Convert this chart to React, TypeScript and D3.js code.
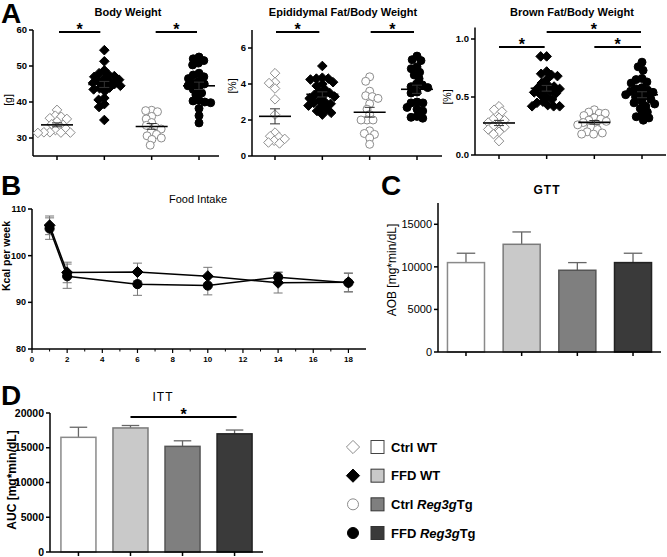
import React from "react";
import * as d3 from "d3";

const FONT = "Liberation Sans, Arial, sans-serif";
const W = 667;
const H = 557;

const GROUPS = ["Ctrl WT", "FFD WT", "Ctrl Reg3g", "FFD Reg3g"];

// A: body weight [g]
const bwCtrlWT = [37.8, 36.2, 35.9, 35.5, 35.3, 34.6, 33.8, 33.2, 32.6, 32.2, 31.6, 31.5, 31.5, 31.4, 31.6];
const bwFfdWT = [54.4, 51.3, 48.8, 48.0, 47.6, 47.2, 47.0, 46.5, 46.2, 45.9, 45.6, 45.3, 45.0, 44.8, 44.5, 44.0, 43.8, 43.5, 43.0, 41.1, 40.6, 39.4, 38.6, 35.0];
const bwCtrlTg = [37.7, 37.6, 37.3, 36.0, 35.3, 34.3, 33.5, 32.5, 31.8, 31.0, 30.6, 30.0, 29.6, 28.0, 33.0];
const bwFfdTg = [52.5, 52.0, 51.5, 50.8, 50.3, 48.0, 47.5, 47.0, 46.5, 45.8, 45.3, 45.0, 44.5, 44.0, 43.5, 42.5, 42.0, 40.5, 40.3, 40.0, 39.8, 38.2, 36.2, 34.2];

// A: epididymal fat / body weight [%]
const epiCtrlWT = [4.6, 4.1, 4.05, 3.75, 3.15, 2.3, 1.3, 1.1, 1.05, 0.95, 0.85, 0.75, 0.7];
const epiFfdWT = [5.0, 4.35, 4.3, 4.3, 4.25, 4.1, 4.0, 3.9, 3.7, 3.6, 3.5, 3.4, 3.35, 3.3, 3.2, 3.1, 3.0, 2.95, 2.9, 2.8, 2.75, 2.6, 2.5, 2.4, 2.3];
const epiCtrlTg = [4.4, 4.15, 3.6, 3.35, 3.3, 3.2, 2.9, 2.6, 2.3, 2.0, 2.0, 2.0, 1.4, 1.25, 1.2, 1.0, 0.65];
const epiFfdTg = [5.55, 5.35, 5.3, 4.95, 4.85, 4.65, 4.5, 4.3, 4.0, 3.95, 3.85, 3.8, 3.55, 3.5, 3.0, 2.95, 2.95, 2.7, 2.6, 2.5, 2.2, 2.15, 2.1];

// A: brown fat / body weight [%]
const brCtrlWT = [0.42, 0.39, 0.375, 0.32, 0.31, 0.3, 0.28, 0.26, 0.25, 0.24, 0.22, 0.2, 0.18, 0.12];
const brFfdWT = [0.85, 0.85, 0.72, 0.7, 0.69, 0.68, 0.65, 0.62, 0.6, 0.59, 0.58, 0.57, 0.56, 0.55, 0.54, 0.53, 0.52, 0.5, 0.48, 0.46, 0.45, 0.43, 0.42, 0.42, 0.42];
const brCtrlTg = [0.39, 0.37, 0.36, 0.36, 0.34, 0.32, 0.31, 0.3, 0.29, 0.28, 0.27, 0.26, 0.24, 0.22, 0.2, 0.19, 0.18, 0.18];
const brFfdTg = [0.8, 0.76, 0.73, 0.66, 0.65, 0.63, 0.62, 0.58, 0.57, 0.56, 0.55, 0.54, 0.53, 0.52, 0.51, 0.5, 0.48, 0.46, 0.45, 0.44, 0.42, 0.4, 0.37, 0.35, 0.33, 0.32, 0.3];

// B: food intake
const weeks = [1, 2, 6, 10, 14, 18];
const fiFfdWT = [106.5, 96.4, 96.5, 95.6, 94.2, 94.3];
const fiFfdWTErr = [2.0, 2.2, 1.9, 1.9, 2.2, 2.0];
const fiFfdTg = [105.8, 95.6, 93.9, 93.6, 95.4, 94.2];
const fiFfdTgErr = [2.3, 2.6, 2.4, 2.0, 1.1, 2.0];
const fiXTicks = [0, 2, 4, 6, 8, 10, 12, 14, 16, 18];
const fiYTicks = [80, 90, 100, 110];

// C: GTT
const gttMean = [10500, 12650, 9600, 10500];
const gttErr = [1100, 1450, 900, 1100];
const gttTicks = [0, 5000, 10000, 15000];

// D: ITT
const ittMean = [16500, 17850, 15200, 17000];
const ittErr = [1450, 350, 800, 550];
const ittTicks = [0, 5000, 10000, 15000, 20000];

const barFill = ["#ffffff", "#c9c9c9", "#7f7f7f", "#3a3a3a"];
const barStroke = ["#8a8a8a", "#7a7a7a", "#555555", "#222222"];

const MR = 4; // marker radius
const SEP = 6; // swarm spacing (markers may overlap a bit)

function Marker({ kind, x, y, r }: { kind: number; x: number; y: number; r: number }) {
  const filled = kind === 1 || kind === 3;
  const fill = filled ? "#000" : "#fff";
  const stroke = filled ? "#000" : "#8c8c8c";
  if (kind <= 1) {
    const d = r * 1.2;
    return (
      <path
        d={`M${x},${y - d}L${x + d},${y}L${x},${y + d}L${x - d},${y}Z`}
        fill={fill}
        stroke={stroke}
        strokeWidth={1}
      />
    );
  }
  return <circle cx={x} cy={y} r={r} fill={fill} stroke={stroke} strokeWidth={1} />;
}

// simple beeswarm layout in pixel space
function swarm(values: number[], y: (v: number) => number, cx: number, sep: number) {
  const pts = values.map((v) => ({ v, y: y(v), x: cx })).sort((a, b) => a.y - b.y);
  const placed: { x: number; y: number }[] = [];
  for (const p of pts) {
    const near = placed.filter((q) => Math.abs(q.y - p.y) < sep);
    const cands = [cx];
    near.forEach((q) => {
      const dx = Math.sqrt(sep * sep - (q.y - p.y) ** 2);
      cands.push(q.x - dx, q.x + dx);
    });
    const ok = cands
      .filter((c) => near.every((q) => (q.x - c) ** 2 + (q.y - p.y) ** 2 >= sep * sep - 0.01))
      .sort((a, b) => Math.abs(a - cx) - Math.abs(b - cx));
    p.x = ok.length ? ok[0] : cx;
    placed.push({ x: p.x, y: p.y });
  }
  return pts;
}

function YAxis({ x, scale, ticks, fmt, size, bold, top }: any) {
  const [r0, r1] = scale.range();
  return (
    <g>
      <line x1={x} x2={x} y1={top ?? r1} y2={r0} stroke="#000" strokeWidth={1.5} />
      {ticks.map((t: number) => (
        <g key={t}>
          <line x1={x - 4} x2={x} y1={scale(t)} y2={scale(t)} stroke="#000" strokeWidth={1.5} />
          <text
            x={x - 6}
            y={scale(t)}
            dy="0.35em"
            textAnchor="end"
            fontSize={size}
            fontWeight={bold ? "bold" : "normal"}
            fontFamily={FONT}
          >
            {fmt ? fmt(t) : t}
          </text>
        </g>
      ))}
    </g>
  );
}

function Star({ x1, x2, y }: { x1: number; x2: number; y: number }) {
  return (
    <g>
      <line x1={x1} x2={x2} y1={y} y2={y} stroke="#000" strokeWidth={2} />
      <text x={(x1 + x2) / 2} y={y + 3} textAnchor="middle" fontSize={16} fontWeight="bold" fontFamily={FONT}>
        *
      </text>
    </g>
  );
}

function ScatterPanel({ data, axisX, axisEnd, x0, x1, y0, y1, domain, ticks, fmt, title, titleX, ylab, ylabX, ylabY, sigs }: any) {
  const x = d3.scalePoint<string>().domain(GROUPS).range([x0, x1]);
  const y = d3.scaleLinear().domain(domain).range([y0, y1]);
  return (
    <g>
      <text x={titleX} y={16} textAnchor="middle" fontSize={11} fontWeight="bold" fontFamily={FONT}>
        {title}
      </text>
      <text transform={`translate(${ylabX},${ylabY}) rotate(-90)`} textAnchor="middle" fontSize={10.5} fontFamily={FONT}>
        {ylab}
      </text>
      <YAxis x={axisX} scale={y} ticks={ticks} fmt={fmt} size={9.5} bold />
      <line x1={axisX} x2={axisEnd} y1={y0} y2={y0} stroke="#000" strokeWidth={1.5} />
      {GROUPS.map((g) => (
        <line key={g} x1={x(g)} x2={x(g)} y1={y0} y2={y0 + 4} stroke="#000" strokeWidth={1.5} />
      ))}
      {data.map((vals: number[], i: number) => {
        const cx = x(GROUPS[i])!;
        const pts = swarm(vals, y, cx, SEP);
        const m = d3.mean(vals)!;
        const sem = d3.deviation(vals)! / Math.sqrt(vals.length);
        return (
          <g key={i}>
            {pts.map((p, j) => (
              <Marker key={j} kind={i} x={p.x} y={p.y} r={MR} />
            ))}
            <line x1={cx - 16} x2={cx + 16} y1={y(m)} y2={y(m)} stroke="#000" strokeWidth={1.6} />
            <line x1={cx} x2={cx} y1={y(m - sem)} y2={y(m + sem)} stroke="#333" strokeWidth={1} />
            <line x1={cx - 5} x2={cx + 5} y1={y(m + sem)} y2={y(m + sem)} stroke="#333" strokeWidth={1} />
            <line x1={cx - 5} x2={cx + 5} y1={y(m - sem)} y2={y(m - sem)} stroke="#333" strokeWidth={1} />
          </g>
        );
      })}
      {sigs.map((s: any, k: number) => (
        <Star key={k} x1={x(GROUPS[s.a])! + s.da} x2={x(GROUPS[s.b])! + s.db} y={s.y} />
      ))}
    </g>
  );
}

function FoodIntake() {
  const x = d3.scaleLinear().domain([0, 19]).range([32, 366]);
  const y = d3.scaleLinear().domain([80, 110]).range([349, 209]);
  const minor = d3.range(1, 19, 2);
  const series = [
    { v: fiFfdTg, e: fiFfdTgErr, kind: 3 },
    { v: fiFfdWT, e: fiFfdWTErr, kind: 1 },
  ];
  const line = d3
    .line<number>()
    .x((_, i) => x(weeks[i]))
    .y((d) => y(d));
  return (
    <g>
      <text x={1} y={195} fontSize={28} fontWeight="bold" fontFamily={FONT}>
        B
      </text>
      <text x={198} y={203} textAnchor="middle" fontSize={11} fontFamily={FONT}>
        Food Intake
      </text>
      <text transform={`translate(10,256) rotate(-90)`} textAnchor="middle" fontSize={10.5} fontWeight="bold" fontFamily={FONT}>
        Kcal per week
      </text>
      <YAxis x={32} scale={y} ticks={fiYTicks} size={9} bold />
      <line x1={32} x2={366} y1={349} y2={349} stroke="#000" strokeWidth={1.5} />
      {fiXTicks.map((t) => (
        <g key={t}>
          <line x1={x(t)} x2={x(t)} y1={349} y2={353} stroke="#000" strokeWidth={1.2} />
          <text x={x(t)} y={362} textAnchor="middle" fontSize={8} fontWeight="bold" fontFamily={FONT}>
            {t}
          </text>
        </g>
      ))}
      {minor.map((t) => (
        <line key={t} x1={x(t)} x2={x(t)} y1={349} y2={351.5} stroke="#000" strokeWidth={1} />
      ))}
      {series.map((s, k) => (
        <g key={k}>
          {s.v.map((v, i) => (
            <g key={i} stroke="#777" strokeWidth={1}>
              <line x1={x(weeks[i])} x2={x(weeks[i])} y1={y(v - s.e[i])} y2={y(v + s.e[i])} />
              <line x1={x(weeks[i]) - 4.5} x2={x(weeks[i]) + 4.5} y1={y(v + s.e[i])} y2={y(v + s.e[i])} />
              <line x1={x(weeks[i]) - 4.5} x2={x(weeks[i]) + 4.5} y1={y(v - s.e[i])} y2={y(v - s.e[i])} />
            </g>
          ))}
        </g>
      ))}
      {series.map((s, k) => (
        <g key={k}>
          <path d={line(s.v)!} fill="none" stroke="#000" strokeWidth={1.5} />
          {s.v.map((v, i) => (
            <Marker key={i} kind={s.kind} x={x(weeks[i])} y={y(v)} r={4.6} />
          ))}
        </g>
      ))}
    </g>
  );
}

function BarPanel({ mean, err, ticks, domain, axisX, axisEnd, y0, y1, pi, po, bold, letter, letterX, letterY, title, titleX, titleY, ylab, ylabX, ylabY, sig }: any) {
  const x = d3.scaleBand<string>().domain(GROUPS).range([axisX, axisEnd]).paddingInner(pi).paddingOuter(po);
  const y = d3.scaleLinear().domain(domain).range([y0, y1]);
  const bw = x.bandwidth();
  return (
    <g>
      <text x={letterX} y={letterY} fontSize={28} fontWeight="bold" fontFamily={FONT}>
        {letter}
      </text>
      <text x={titleX} y={titleY} textAnchor="middle" fontSize={12} fontWeight={bold ? "normal" : "bold"} letterSpacing={1} fontFamily={FONT}>
        {title}
      </text>
      <text
        transform={`translate(${ylabX},${ylabY}) rotate(-90)`}
        textAnchor="middle"
        fontSize={12}
        fontWeight={bold ? "bold" : "normal"}
        fontFamily={FONT}
      >
        {ylab}
      </text>
      {mean.map((m: number, i: number) => {
        const bx = x(GROUPS[i])!;
        const cx = bx + bw / 2;
        return (
          <g key={i}>
            <line x1={cx} x2={cx} y1={y(m)} y2={y(m + err[i])} stroke="#666" strokeWidth={1.3} />
            <line x1={cx - bw / 4} x2={cx + bw / 4} y1={y(m + err[i])} y2={y(m + err[i])} stroke="#666" strokeWidth={1.3} />
            <rect x={bx} y={y(m)} width={bw} height={y0 - y(m)} fill={barFill[i]} stroke={barStroke[i]} strokeWidth={1.5} />
            <line x1={cx} x2={cx} y1={y0} y2={y0 + 4} stroke="#000" strokeWidth={1.5} />
          </g>
        );
      })}
      <YAxis x={axisX} scale={y} ticks={ticks} size={bold ? 10.5 : 11} bold={bold} />
      <line x1={axisX} x2={axisEnd} y1={y0} y2={y0} stroke="#000" strokeWidth={1.5} />
      {sig && <Star x1={x(GROUPS[sig.a])! + bw / 2} x2={x(GROUPS[sig.b])! + bw / 2 + 2} y={sig.y} />}
    </g>
  );
}

function Legend() {
  const rowY = d3.scalePoint<string>().domain(GROUPS).range([447, 533]);
  return (
    <g fontFamily={FONT} fontSize={13} fontWeight="bold">
      {GROUPS.map((g, i) => {
        const yy = rowY(g)!;
        const tg = g.includes("Reg3g");
        return (
          <g key={g}>
            <Marker kind={i} x={353} y={yy} r={5.5} />
            <rect x={371} y={yy - 6.5} width={13} height={13} fill={barFill[i]} stroke={i === 0 ? "#444" : "#333"} strokeWidth={1} />
            <text x={391} y={yy} dy="0.36em">
              {tg ? (
                <>
                  {g.split(" ")[0] + " "}
                  <tspan fontStyle="italic">Reg3g</tspan>Tg
                </>
              ) : (
                g
              )}
            </text>
          </g>
        );
      })}
    </g>
  );
}

export default function App() {
  return (
    <svg width={W} height={H} style={{ position: "absolute", left: 0, top: 0, background: "#fff" }}>
      <rect width={W} height={H} fill="#fff" />
      <text x={1} y={23} fontSize={28} fontWeight="bold" fontFamily={FONT}>
        A
      </text>
      <ScatterPanel
        data={[bwCtrlWT, bwFfdWT, bwCtrlTg, bwFfdTg]}
        axisX={33}
        axisEnd={219}
        x0={57}
        x1={199}
        y0={156}
        y1={30}
        domain={[25, 60]}
        ticks={[30, 40, 50, 60]}
        title="Body Weight"
        titleX={128}
        ylab="[g]"
        ylabX={12}
        ylabY={100}
        sigs={[
          { a: 0, b: 1, da: 2, db: -4, y: 32 },
          { a: 2, b: 3, da: 4, db: -2, y: 32 },
        ]}
      />
      <ScatterPanel
        data={[epiCtrlWT, epiFfdWT, epiCtrlTg, epiFfdTg]}
        axisX={252}
        axisEnd={442}
        x0={275}
        x1={417}
        y0={156}
        y1={30}
        domain={[0, 7]}
        ticks={[0, 2, 4, 6]}
        title="Epididymal Fat/Body Weight"
        titleX={343}
        ylab="[%]"
        ylabX={236}
        ylabY={86}
        sigs={[
          { a: 0, b: 1, da: 1, db: -3, y: 32 },
          { a: 2, b: 3, da: 1, db: -3, y: 32 },
        ]}
      />
      <ScatterPanel
        data={[brCtrlWT, brFfdWT, brCtrlTg, brFfdTg]}
        axisX={475}
        axisEnd={666}
        x0={499}
        x1={642}
        y0={155}
        y1={27.4}
        domain={[0, 1.1]}
        ticks={[0, 0.5, 1.0]}
        fmt={d3.format(".1f")}
        title="Brown Fat/Body Weight"
        titleX={572}
        ylab="[%]"
        ylabX={451}
        ylabY={97}
        sigs={[
          { a: 0, b: 1, da: 0, db: -2, y: 47 },
          { a: 1, b: 3, da: 0, db: -1, y: 32 },
          { a: 2, b: 3, da: 0, db: -1, y: 47 },
        ]}
      />
      <FoodIntake />
      <BarPanel
        mean={gttMean}
        err={gttErr}
        ticks={gttTicks}
        domain={[0, 17500]}
        axisX={438}
        axisEnd={661}
        y0={352}
        y1={203}
        pi={0.335}
        po={0.17}
        bold={false}
        letter="C"
        letterX={381}
        letterY={195}
        title="GTT"
        titleX={547}
        titleY={194}
        ylab="AOB [mg*min/dL]"
        ylabX={396}
        ylabY={270}
      />
      <BarPanel
        mean={ittMean}
        err={ittErr}
        ticks={ittTicks}
        domain={[0, 20000]}
        axisX={50}
        axisEnd={263}
        y0={552}
        y1={413}
        pi={0.327}
        po={0.21}
        bold={true}
        letter="D"
        letterX={1}
        letterY={405}
        title="ITT"
        titleX={163}
        titleY={401}
        ylab="AUC [mg*min/dL]"
        ylabX={16}
        ylabY={480}
        sig={{ a: 1, b: 3, y: 417 }}
      />
      <Legend />
    </svg>
  );
}
